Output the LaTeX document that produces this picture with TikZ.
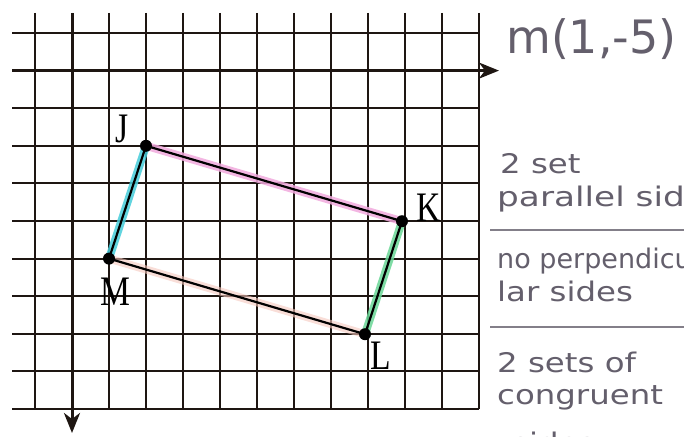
\documentclass[tikz,border=0pt]{standalone}
\usepackage{fontspec}
\setmainfont{Liberation Serif}
\newfontfamily\handfont{DejaVu Sans}
\usetikzlibrary{arrows.meta}
\definecolor{handcol}{RGB}{100,95,108}
\definecolor{hlpink}{RGB}{242,170,222}
\definecolor{hlcyan}{RGB}{70,205,218}
\definecolor{hlgreen}{RGB}{105,215,150}
\definecolor{hlpeach}{RGB}{246,200,190}
\definecolor{gridcol}{RGB}{30,22,18}
\tikzset{
  gridline/.style={draw=gridcol,line width=2pt},
  axisline/.style={draw=gridcol,line width=3pt,-{Stealth[length=20pt,width=16pt,inset=6pt]}},
  hl/.style={line width=8pt,line cap=round,opacity=0.85},
  edgeline/.style={draw=black,line width=2.2pt,line cap=round},
  vlabel/.style={inner sep=0pt,font=\fontsize{42}{42}\selectfont},
  hand/.style={inner sep=0pt,anchor=base west,text=handcol},
  rulestyle/.style={draw=handcol!80,line width=1.4pt}
}
\begin{document}
\begin{tikzpicture}[x=1pt,y=-1pt]
\useasboundingbox (0,0) rectangle (684,436);
\fill[white] (0,0) rectangle (684,436);
% grid
\foreach \i in {0,...,12} \draw[gridline] ({35+37*\i},13) -- ({35+37*\i},409);
\foreach \j in {0,...,10} \draw[gridline] (12,{33+37.6*\j}) -- (479,{33+37.6*\j});
% axes
\coordinate (xa0) at (12,70.6);
\coordinate (xa1) at (499,70.6);
\coordinate (ya0) at (72,13);
\coordinate (ya1) at (72,433);
\draw[axisline] (xa0) -- (xa1);
\draw[axisline] (ya0) -- (ya1);
% vertices
\coordinate (J) at (146,145.8);
\coordinate (K) at (402,221.2);
\coordinate (L) at (365,334.2);
\coordinate (M) at (109,258.6);
% highlights
\begin{scope}[yshift=-2pt]
\draw[hl,hlpink] (J) -- (K);
\draw[hl,hlpeach,opacity=0.6] (M) -- (L);
\end{scope}
\begin{scope}[xshift=2.5pt]
\draw[hl,hlcyan] (J) -- (M);
\end{scope}
\begin{scope}[xshift=-1.5pt]
\draw[hl,hlgreen] (K) -- (L);
\end{scope}
% sides
\draw[edgeline] (J) -- (K);
\draw[edgeline] (K) -- (L);
\draw[edgeline] (L) -- (M);
\draw[edgeline] (M) -- (J);
\foreach \p in {J,K,L,M} \fill[black] (\p) circle (6);
% labels
\node[vlabel] (lJ) at (122,129) {\scalebox{0.8}[1]{J}};
\node[vlabel] (lK) at (429,208) {\scalebox{0.8}[1]{K}};
\node[vlabel] (lL) at (381,356) {\scalebox{0.8}[1]{L}};
\node[vlabel] (lM) at (115,292) {\scalebox{0.8}[1]{M}};
% handwritten notes
\begin{scope}
\clip (480,0) rectangle (684,436);
\node[hand,font=\handfont\fontsize{46}{46}\selectfont] (t0) at (506,53) {m(1,-5)};
\node[hand,font=\handfont\fontsize{27}{27}\selectfont] (t1) at (500,173) {\scalebox{1.2}[1]{2 set}};
\node[hand,font=\handfont\fontsize{27}{27}\selectfont] (t2) at (497,206) {\scalebox{1.27}[1]{parallel sid}};
\coordinate (r1a) at (490,230);
\coordinate (r1b) at (684,230);
\draw[rulestyle] (r1a) -- (r1b);
\node[hand,font=\handfont\fontsize{27}{27}\selectfont] (t3) at (497,268) {\scalebox{1.0}[1]{no perpendicu}};
\node[hand,font=\handfont\fontsize{27}{27}\selectfont] (t4) at (497,301) {\scalebox{1.2}[1]{lar sides}};
\coordinate (r2a) at (490,327);
\coordinate (r2b) at (684,327);
\draw[rulestyle] (r2a) -- (r2b);
\node[hand,font=\handfont\fontsize{27}{27}\selectfont] (t5) at (497,372) {\scalebox{1.2}[1]{2 sets of}};
\node[hand,font=\handfont\fontsize{27}{27}\selectfont] (t6) at (497,404) {\scalebox{1.2}[1]{congruent}};
\node[hand,font=\handfont\fontsize{27}{27}\selectfont] (t7) at (512,452) {\scalebox{1.2}[1]{sides}};
\end{scope}
\end{tikzpicture}
\end{document}
